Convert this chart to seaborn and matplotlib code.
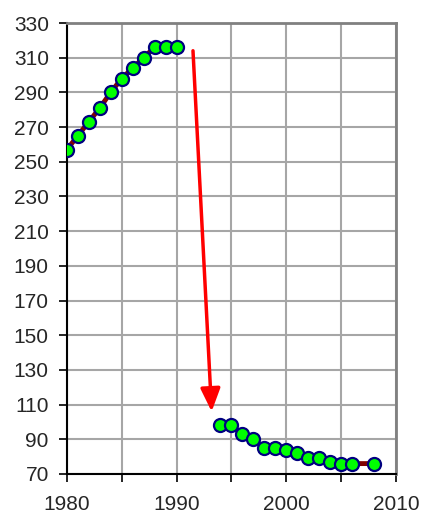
import numpy as np
import pandas as pd
import matplotlib
matplotlib.use("Agg")
import matplotlib.pyplot as plt
import seaborn as sns

years1 = [1980, 1981, 1982, 1983, 1984, 1985, 1986, 1987, 1988, 1989, 1990]
vals1 = [257, 265, 273, 281, 290, 298, 304, 310, 316, 316, 316]
years2 = [1994, 1995, 1996, 1997, 1998, 1999, 2000, 2001, 2002, 2003, 2004, 2005, 2006, 2008]
vals2 = [98, 98, 93, 90, 85, 85, 84, 82, 79, 79, 77, 76, 76, 76]
x_ticks = [1980, 1990, 2000, 2010]
y_ticks = list(range(70, 331, 20))
arrow_start = (1991.5, 314)
arrow_end = (1993.2, 106)

df = pd.DataFrame({
    "year": years1 + years2,
    "value": vals1 + vals2,
    "seg": [1] * len(years1) + [2] * len(years2),
})

sns.set_style("white")
plt.rcParams["font.family"] = ["Liberation Sans", "DejaVu Sans"]

fig = plt.figure(figsize=(4.23, 5.16), dpi=100)
ax = fig.add_axes([0.158, 0.0814, 0.778, 0.874])

sns.lineplot(data=df, x="year", y="value", units="seg", estimator=None,
             color="#800000", linewidth=3.5, ax=ax, zorder=2)
sns.scatterplot(data=df, x="year", y="value", color="#00ff00",
                edgecolor="#000080", linewidth=1.6, s=88, ax=ax, zorder=3)

ax.annotate("", xy=arrow_end, xytext=arrow_start,
            arrowprops=dict(arrowstyle="-|>,head_length=1.4,head_width=0.6",
                            color="#ff0000", lw=2.5, shrinkA=0, shrinkB=0),
            zorder=4)

ax.set_xlim(1980, 2010)
ax.set_ylim(70, 330)
ax.set_xticks(x_ticks)
ax.set_xticks([1985, 1995, 2005], minor=True)
ax.set_yticks(y_ticks)
ax.grid(True, which="both", color="#a6a6a6", linewidth=1.5)
ax.set_axisbelow(True)
ax.set_xlabel("")
ax.set_ylabel("")

for side in ["left", "bottom"]:
    ax.spines[side].set_color("black")
    ax.spines[side].set_linewidth(1.5)
for side in ["top", "right"]:
    ax.spines[side].set_color("#808080")
    ax.spines[side].set_linewidth(2)
    ax.spines[side].set_visible(True)

ax.tick_params(axis="both", which="both", direction="out", length=6,
               width=1.2, color="black", labelsize=15, left=True, bottom=True)
ax.tick_params(axis="y", which="major", pad=7)
ax.tick_params(axis="x", which="major", pad=9)

fig.savefig("out.png", dpi=100)
